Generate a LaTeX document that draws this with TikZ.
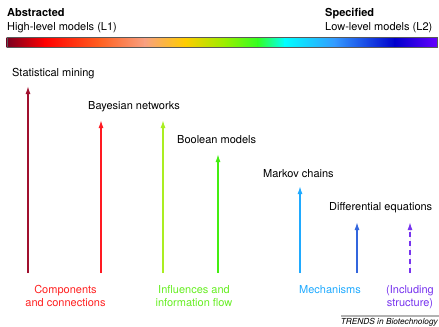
\documentclass[tikz,border=0pt]{standalone}
\usepackage{fontspec}
\setmainfont{TeX Gyre Heros}
\usetikzlibrary{arrows.meta}
\definecolor{colStat}{HTML}{A0102E}
\definecolor{colBay}{HTML}{FF1A22}
\definecolor{colInf}{HTML}{AAEE22}
\definecolor{colBoolean}{HTML}{44EE11}
\definecolor{colMark}{HTML}{1FAAFF}
\definecolor{colDiff}{HTML}{3366DD}
\definecolor{colInc}{HTML}{7733EE}
\definecolor{lRed}{HTML}{FF2222}
\definecolor{lGreen}{HTML}{66EE22}
\definecolor{g0}{HTML}{7A0020}
\definecolor{g1}{HTML}{FF0000}
\definecolor{g2}{HTML}{FF6020}
\definecolor{g3}{HTML}{F8A080}
\definecolor{g4}{HTML}{FFCC00}
\definecolor{g5}{HTML}{99EE00}
\definecolor{g6}{HTML}{33FF22}
\definecolor{g7}{HTML}{00FFFF}
\definecolor{g8}{HTML}{3399FF}
\definecolor{g9}{HTML}{0000CC}
\definecolor{g10}{HTML}{6600FF}
\tikzset{
  lbl/.style={anchor=base west, inner sep=0pt, font=\fontsize{11bp}{13bp}\selectfont},
  bot/.style={anchor=base, inner sep=0pt, align=center, font=\fontsize{11bp}{13bp}\selectfont},
  arr/.style={line width=1.4bp, -{Latex[length=8bp,width=5bp]}},
}
\begin{document}
\begin{tikzpicture}[x=1bp,y=-1bp]
\useasboundingbox (0,0) rectangle (439,326);
% headers
\node[lbl, font=\fontsize{11bp}{13bp}\selectfont\bfseries] (abs) at (7,16) {Abstracted};
\node[lbl] (hl) at (7,30) {High-level models (L1)};
\node[lbl, font=\fontsize{11bp}{13bp}\selectfont\bfseries] (spec) at (325,16) {Specified};
\node[lbl] (ll) at (325,30) {Low-level models (L2)};
% gradient bar
\foreach \a/\b/\ca/\cb in {7/45/g0/g1,45/100/g1/g2,100/145/g2/g3,145/185/g3/g4,185/225/g4/g5,225/258/g5/g6,258/285/g6/g7,285/335/g7/g8,335/395/g8/g9,395/437/g9/g10}
  \shade[left color=\ca, right color=\cb] (\a-0.3,37) rectangle (\b+0.3,47);
\draw[gray!70!black, line width=0.6bp] (7,37) rectangle (437,47);
% model labels
\node[lbl] (sm) at (12,76) {Statistical mining};
\node[lbl] (bn) at (88,109) {Bayesian networks};
\node[lbl] (bm) at (177,143) {Boolean models};
\node[lbl] (mc) at (263,177) {Markov chains};
\node[lbl] (de) at (329,210) {Differential equations};
% arrow coordinates
\coordinate (a1b) at (28,273); \coordinate (a1t) at (28,86);
\coordinate (a2b) at (101,273); \coordinate (a2t) at (101,120);
\coordinate (a3b) at (163,273); \coordinate (a3t) at (163,120);
\coordinate (a4b) at (218,273); \coordinate (a4t) at (218,154);
\coordinate (a5b) at (300,273); \coordinate (a5t) at (300,186);
\coordinate (a6b) at (357,273); \coordinate (a6t) at (357,222);
\coordinate (a7b) at (410,273); \coordinate (a7t) at (410,222);
\draw[arr, draw=colStat, fill=colStat] (a1b) -- (a1t);
\draw[arr, draw=colBay, fill=colBay] (a2b) -- (a2t);
\draw[arr, draw=colInf, fill=colInf] (a3b) -- (a3t);
\draw[arr, draw=colBoolean, fill=colBoolean] (a4b) -- (a4t);
\draw[arr, draw=colMark, fill=colMark] (a5b) -- (a5t);
\draw[arr, draw=colDiff, fill=colDiff] (a6b) -- (a6t);
\draw[arr, draw=colInc, fill=colInc, dash pattern=on 5bp off 4bp] (a7b) -- (a7t);
% bottom labels
\node[bot, text=lRed] (cc) at (65.5,306) {Components\\and connections};
\node[bot, text=lGreen] (if) at (194,306) {Influences and\\information flow};
\node[bot, text=colMark] (me) at (330,293) {Mechanisms};
\node[bot, text=colInc] (is) at (410,306) {(Including\\structure)};
% footer
\draw[gray!60, line width=2bp] (341,316) -- (439,316);
\node[anchor=base east, inner sep=0pt, font=\fontsize{8.3bp}{10bp}\selectfont\itshape] (tr) at (438,324.5) {TRENDS in Biotechnology};
\end{tikzpicture}
\end{document}
